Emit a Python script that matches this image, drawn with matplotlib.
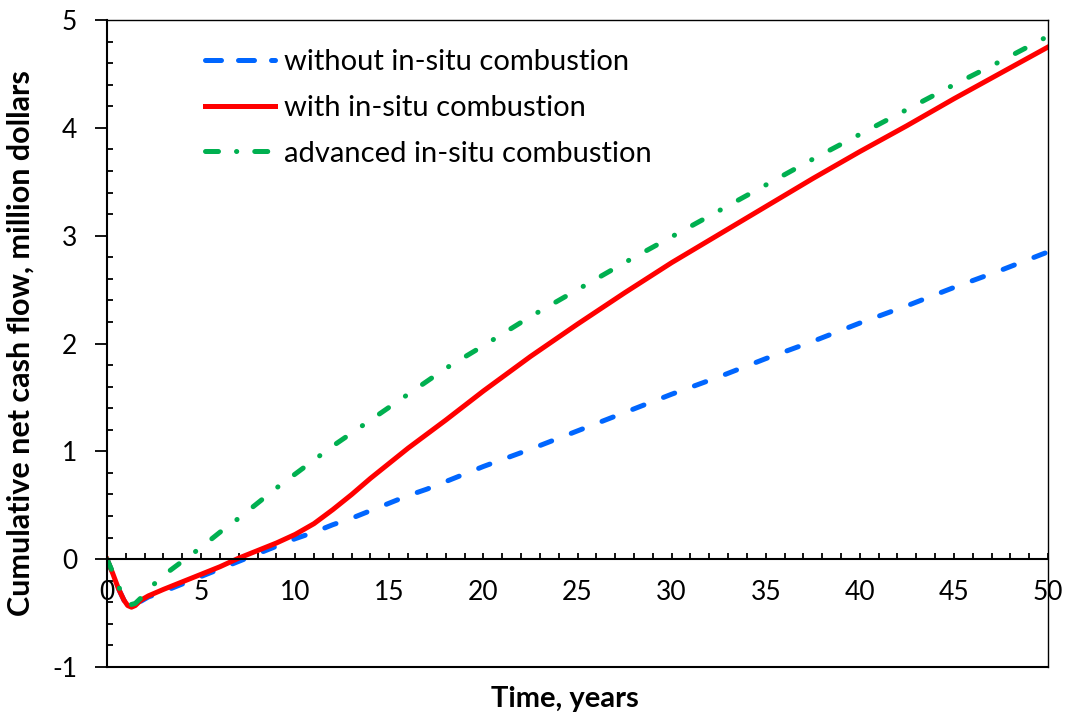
import matplotlib
matplotlib.use("Agg")
import matplotlib.pyplot as plt
from matplotlib.lines import Line2D
from matplotlib.ticker import MultipleLocator

plt.rcParams["font.family"] = ["Lato", "DejaVu Sans"]
plt.rcParams["axes.unicode_minus"] = False

# time, years
t = [0, 0.3, 0.6, 0.9, 1.1, 1.3, 1.5, 1.8, 2.2, 3, 4, 5, 6, 7, 8, 9, 10, 11, 12, 13, 14, 15,
     16, 17, 18, 20, 22.5, 25, 27.5, 30, 32.5, 35, 37.5, 40, 42.5, 45, 47.5, 50]

# cumulative net cash flow, million dollars
without_isc = [0, -0.13, -0.27, -0.38, -0.43, -0.44, -0.43, -0.39, -0.35, -0.30, -0.23, -0.16,
               -0.09, -0.02, 0.05, 0.12, 0.19, 0.25, 0.32, 0.38, 0.45, 0.52, 0.59, 0.65, 0.72,
               0.86, 1.02, 1.19, 1.36, 1.53, 1.69, 1.86, 2.02, 2.19, 2.35, 2.52, 2.68, 2.85]
with_isc = [0, -0.13, -0.27, -0.38, -0.43, -0.445, -0.43, -0.38, -0.34, -0.28, -0.21, -0.14,
            -0.07, 0.01, 0.08, 0.15, 0.23, 0.33, 0.46, 0.60, 0.75, 0.89, 1.03, 1.16, 1.29,
            1.56, 1.88, 2.18, 2.47, 2.75, 3.01, 3.27, 3.53, 3.78, 4.02, 4.27, 4.51, 4.75]
advanced_isc = [0, -0.12, -0.25, -0.35, -0.40, -0.42, -0.41, -0.36, -0.28, -0.15, -0.02, 0.11,
                0.25, 0.38, 0.52, 0.66, 0.79, 0.92, 1.05, 1.17, 1.29, 1.41, 1.53, 1.65, 1.77,
                1.98, 2.25, 2.50, 2.75, 2.99, 3.23, 3.47, 3.71, 3.94, 4.17, 4.40, 4.62, 4.85]

labels = ["without in-situ combustion", "with in-situ combustion", "advanced in-situ combustion"]

fig = plt.figure(figsize=(10.68, 7.16), dpi=100)
ax = fig.add_axes([0.1002, 0.0684, 0.8811, 0.9036])

lw = 3.6
l1, = ax.plot(t, without_isc, color="#0066FF", linewidth=lw)
l1.set_dashes([2.4, 4.2])
l1.set_dash_capstyle("round")
l2, = ax.plot(t, with_isc, color="#FF0000", linewidth=lw)
l3, = ax.plot(t, advanced_isc, color="#00B050", linewidth=lw)
l3.set_dashes([2.2, 4.1, 0.05, 4.1])
l3.set_dash_capstyle("round")

ax.set_xlim(0, 50)
ax.set_ylim(-1, 5)
ax.spines["bottom"].set_position(("data", 0))
ax.axhline(-1, color="black", linewidth=1.5, clip_on=False)
for s in ["left", "bottom"]:
    ax.spines[s].set_linewidth(1.5)
for s in ["top", "right"]:
    ax.spines[s].set_linewidth(1.0)

ax.xaxis.set_major_locator(MultipleLocator(5))
ax.xaxis.set_minor_locator(MultipleLocator(1))
ax.yaxis.set_major_locator(MultipleLocator(1))
ax.yaxis.set_minor_locator(MultipleLocator(0.2))
ax.tick_params(axis="x", which="both", direction="in", length=4.5, width=1.3, labelsize=19, pad=15)
ax.tick_params(axis="y", which="major", direction="out", length=8.5, width=1.3, labelsize=19, pad=13)
ax.tick_params(axis="y", which="minor", direction="in", length=4.5, width=1.3)

ax.set_xlabel("Time, years", fontsize=21, fontweight="bold")
ax.xaxis.set_label_coords(0.487, -0.03)
ax.set_ylabel("Cumulative net cash flow, million dollars", fontsize=22, fontweight="bold")
ax.yaxis.set_label_coords(-0.0765, 0.5)

# legend handles with the pattern seen in the key
h1 = Line2D([], [], color="#0066FF", linewidth=lw, dashes=[3.2, 3.4], dash_capstyle="round")
h2 = Line2D([], [], color="#FF0000", linewidth=lw)
h3 = Line2D([], [], color="#00B050", linewidth=lw, dashes=[2.6, 3.6, 0.05, 3.6], dash_capstyle="round")
ax.legend([h1, h2, h3], labels, loc="upper left", bbox_to_anchor=(205 / 1068, 1 - 49 / 716),
          bbox_transform=fig.transFigure, frameon=False, fontsize=21, handlelength=2.4,
          handletextpad=0.3, labelspacing=0.68, borderpad=0, borderaxespad=0)

fig.savefig("out.png", dpi=100)
